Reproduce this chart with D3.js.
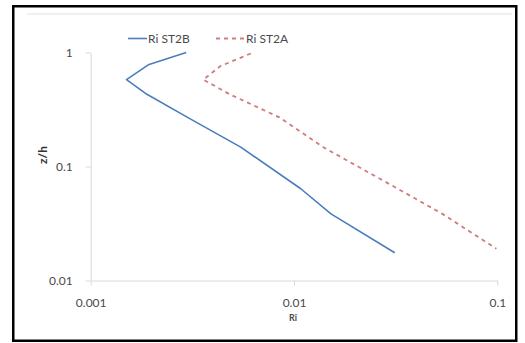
<!DOCTYPE html>
<html>
<head>
<meta charset="utf-8">
<script src="https://cdn.jsdelivr.net/npm/d3@7"></script>
<style>
html,body{margin:0;padding:0;background:#fff;}
svg{display:block;}
</style>
</head>
<body>
<svg id="chart" width="525" height="343"></svg>
<script>
// ---- data ----
const seriesNames = ["Ri ST2B", "Ri ST2A"];
const zST2B = [1, 0.78, 0.578, 0.43, 0.271, 0.148, 0.0638, 0.0384, 0.0175];
const riST2B = [0.00295, 0.00192, 0.00150, 0.00189, 0.00298, 0.00547, 0.0108, 0.0152, 0.0313];
const zST2A = [0.98, 0.76, 0.578, 0.43, 0.271, 0.148, 0.0638, 0.0384, 0.019];
const riST2A = [0.00613, 0.00435, 0.00358, 0.00483, 0.00843, 0.0139, 0.0324, 0.0537, 0.099];
const xTicks = [0.001, 0.01, 0.1];
const yTicks = [0.01, 0.1, 1];
const xTickLabels = ["0.001", "0.01", "0.1"];
const yTickLabels = ["0.01", "0.1", "1"];
const xTitle = "Ri";
const yTitle = "z/h";

const svg = d3.select("#chart");
const font = "Lato, 'Open Sans', sans-serif";
const textColor = "#4a4a4a";

// outer frame
svg.append("rect").attr("x", 13.25).attr("y", 6.25).attr("width", 503).attr("height", 334.5)
  .attr("fill", "none").attr("stroke", "#000").attr("stroke-width", 2.5);
// faint chart area top edge
svg.append("line").attr("x1", 27).attr("x2", 512).attr("y1", 14).attr("y2", 14)
  .attr("stroke", "#f0f0f0").attr("stroke-width", 2);

const x = d3.scaleLog().domain([0.001, 0.1]).range([90.7, 497.3]);
const y = d3.scaleLog().domain([0.01, 1]).range([280.5, 52.5]);

// axes
const xAxis = svg.append("g").attr("transform", "translate(0,280.5)")
  .call(d3.axisBottom(x).tickValues(xTicks).tickFormat((d, i) => xTickLabels[i]).tickSize(5).tickPadding(13).tickSizeOuter(0));
const yAxis = svg.append("g").attr("transform", "translate(90.7,0)")
  .call(d3.axisLeft(y).tickValues(yTicks).tickFormat((d, i) => yTickLabels[i]).tickSize(5).tickPadding(13).tickSizeOuter(0));
[xAxis, yAxis].forEach(g => {
  g.select(".domain").attr("stroke", "#d9d9d9").attr("stroke-width", 1);
  g.selectAll(".tick line").attr("stroke", "#d9d9d9");
  g.selectAll(".tick text").attr("fill", textColor).attr("font-family", font).attr("font-size", 12);
});

// titles
svg.append("text").attr("x", 293).attr("y", 321).attr("text-anchor", "middle")
  .attr("font-family", font).attr("font-size", 9).attr("font-weight", "bold").attr("fill", textColor).text(xTitle);
svg.append("text").attr("transform", "translate(47,155) rotate(-90)").attr("text-anchor", "middle")
  .attr("font-family", font).attr("font-size", 12).attr("font-weight", "bold").attr("fill", "#333").text(yTitle);

// lines
const line = d3.line().x(d => x(d[0])).y(d => y(d[1]));
const dB = riST2B.map((r, i) => [r, zST2B[i]]);
const dA = riST2A.map((r, i) => [r, zST2A[i]]);
svg.append("path").datum(dB).attr("d", line).attr("fill", "none")
  .attr("stroke", "#4a7ebb").attr("stroke-width", 1.6).attr("stroke-linejoin", "round");
svg.append("path").datum(dA).attr("d", line).attr("fill", "none")
  .attr("stroke", "#c0504d").attr("stroke-opacity", 0.75).attr("stroke-width", 1.8).attr("stroke-dasharray", "4,4");

// legend
const legend = svg.append("g");
legend.append("line").attr("x1", 128).attr("x2", 147).attr("y1", 38.5).attr("y2", 38.5)
  .attr("stroke", "#4a7ebb").attr("stroke-width", 1.6);
legend.append("text").attr("x", 148).attr("y", 42.5).attr("font-family", font).attr("font-size", 12)
  .attr("fill", textColor).text(seriesNames[0]);
legend.append("line").attr("x1", 216).attr("x2", 244).attr("y1", 38.5).attr("y2", 38.5)
  .attr("stroke", "#c0504d").attr("stroke-opacity", 0.75).attr("stroke-width", 1.8).attr("stroke-dasharray", "4,4");
legend.append("text").attr("x", 246).attr("y", 42.5).attr("font-family", font).attr("font-size", 12)
  .attr("fill", textColor).text(seriesNames[1]);
</script>
</body>
</html>
